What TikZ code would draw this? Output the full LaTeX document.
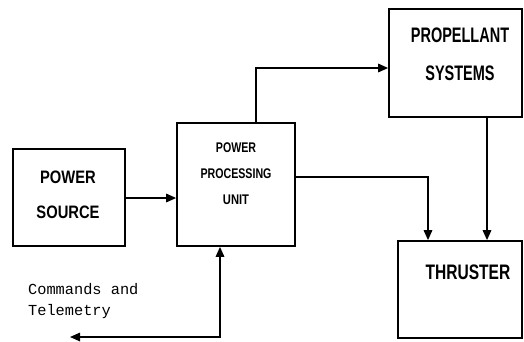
\documentclass[tikz,border=0pt]{standalone}
\usepackage{fontspec}
\setmainfont{Liberation Sans}
\newfontfamily\cmdfont{Liberation Mono}
\usetikzlibrary{arrows.meta,calc}
\tikzset{
  blk/.style={draw=black, line width=1.7pt, fill=white, inner sep=0pt},
  lbl/.style={inner sep=0pt, text=black},
  conn/.style={draw=black, line width=1.6pt, -{Triangle[length=10pt,width=8.5pt]}},
  conn2/.style={draw=black, line width=1.6pt, {Triangle[length=10pt,width=8.5pt]}-{Triangle[length=10pt,width=8.5pt]}}
}
\newcommand{\cond}[3]{\scalebox{#1}[1]{\fontsize{#2}{#2}\selectfont\bfseries #3}}
\begin{document}
\begin{tikzpicture}[x=1pt,y=-1pt]
\useasboundingbox (0,0) rectangle (524,341);
\fill[white] (0,0) rectangle (524,341);
% boxes
\node[blk, minimum width=112pt, minimum height=97pt] (ps) at (69,197.5) {};
\node[blk, minimum width=118pt, minimum height=123pt] (ppu) at (236,184.5) {};
\node[blk, minimum width=133pt, minimum height=108pt] (prop) at (455.5,63) {};
\node[blk, minimum width=124pt, minimum height=97pt] (thr) at (460,289.5) {};
% labels
\node[lbl] (ps1) at (68,177) {\cond{0.82}{18}{POWER}};
\node[lbl] (ps2) at (68,212) {\cond{0.82}{18}{SOURCE}};
\node[lbl] (pp1) at (236,148) {\cond{0.76}{14}{POWER}};
\node[lbl] (pp2) at (236,174) {\cond{0.76}{14}{PROCESSING}};
\node[lbl] (pp3) at (236,200) {\cond{0.8}{14}{UNIT}};
\node[lbl] (pr1) at (460,35) {\cond{0.69}{21}{PROPELLANT}};
\node[lbl] (pr2) at (460,73) {\cond{0.69}{21}{SYSTEMS}};
\node[lbl] (th1) at (468,272) {\cond{0.74}{21}{THRUSTER}};
\node[lbl, anchor=base west] (cm1) at (28,294) {\cmdfont\fontsize{15.3}{15.3}\selectfont Commands and};
\node[lbl, anchor=base west] (cm2) at (28,315) {\cmdfont\fontsize{15.3}{15.3}\selectfont Telemetry};
% connectors
\coordinate (cmdend) at (70,337);
\coordinate (ppuTop) at ($(ppu.north)+(20,0)$);
\coordinate (ppuRight) at ($(ppu.east)+(0,-7.5)$);
\coordinate (propBot) at ($(prop.south)+(31.5,0)$);
\coordinate (ppuBot) at ($(ppu.south)+(-16,0)$);
\draw[conn] (ps.east |- 0,198) -- (ppu.west |- 0,198);
\draw[conn] (ppuTop) |- ($(prop.west)+(0,5)$);
\draw[conn] (ppuRight) -| ($(thr.north)+(-32,0)$);
\draw[conn] (propBot) -- (propBot |- thr.north);
\draw[conn2] (ppuBot) |- (cmdend);
\end{tikzpicture}
\end{document}
